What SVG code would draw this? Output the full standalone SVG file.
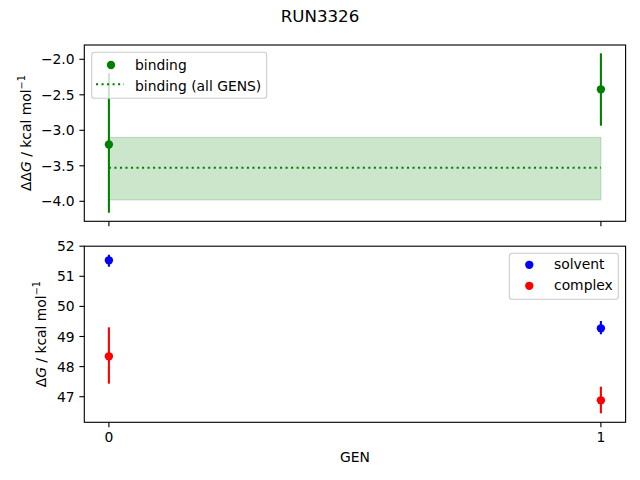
<svg xmlns="http://www.w3.org/2000/svg" width="640" height="480" viewBox="0 0 640 480">
<style>
text{font-family:"DejaVu Sans","Liberation Sans",sans-serif;fill:#000}
.tick{font-size:13.89px}
.tl{font-size:13.89px;text-anchor:end}
.tc{font-size:13.89px;text-anchor:middle}
.lab{font-size:13.89px;text-anchor:middle}
.sp{fill:none;stroke:#000;stroke-width:1.11}
.tk{stroke:#000;stroke-width:1.11}
.eg{stroke:#008000;stroke-width:2.08}
.eb{stroke:#0000ff;stroke-width:2.08}
.er{stroke:#ff0000;stroke-width:2.08}
.leg{fill:#fff;fill-opacity:0.8;stroke:#cccccc;stroke-width:1.11}
.dot{stroke:#008000;stroke-width:2.08;stroke-dasharray:2.08 3.44;fill:none}
</style>
<rect width="640" height="480" fill="#fff"/>
<text x="320" y="22" style="font-size:16.67px;text-anchor:middle">RUN3326</text>

<g id="top-axes">
  <rect x="108.9" y="137.4" width="492" height="62.5" fill="#008000" fill-opacity="0.2" stroke="#008000" stroke-opacity="0.2" stroke-width="1.11"/>
  <line class="dot" x1="108.9" y1="167.7" x2="600.9" y2="167.7"/>
  <g id="top-errorbars">
    <line class="eg" x1="108.9" y1="73.3" x2="108.9" y2="212.7"/>
    <circle cx="108.9" cy="144.5" r="4.17" fill="#008000"/>
    <line class="eg" x1="600.9" y1="53.3" x2="600.9" y2="125.7"/>
    <circle cx="600.9" cy="89.3" r="4.17" fill="#008000"/>
  </g>
  <rect class="sp" x="84.3" y="45" width="541.3" height="176.3"/>
  <g id="top-yticks">
    <line class="tk" x1="79.4" y1="59.3" x2="84.3" y2="59.3"/>
    <line class="tk" x1="79.4" y1="94.8" x2="84.3" y2="94.8"/>
    <line class="tk" x1="79.4" y1="130.3" x2="84.3" y2="130.3"/>
    <line class="tk" x1="79.4" y1="165.8" x2="84.3" y2="165.8"/>
    <line class="tk" x1="79.4" y1="201.3" x2="84.3" y2="201.3"/>
    <text class="tl" x="74.6" y="64.3">−2.0</text>
    <text class="tl" x="74.6" y="99.8">−2.5</text>
    <text class="tl" x="74.6" y="135.3">−3.0</text>
    <text class="tl" x="74.6" y="170.8">−3.5</text>
    <text class="tl" x="74.6" y="206.3">−4.0</text>
  </g>
  <line class="tk" x1="108.9" y1="221.3" x2="108.9" y2="226.2"/>
  <line class="tk" x1="600.9" y1="221.3" x2="600.9" y2="226.2"/>
  <text class="lab" transform="translate(31,133) rotate(-90)">ΔΔ<tspan font-style="italic">G</tspan> / kcal mol<tspan dy="-6" font-size="9.7px">−1</tspan></text>
  <g id="top-legend">
    <rect class="leg" x="91.7" y="52.3" width="175" height="46" rx="2.8"/>
    <circle cx="111" cy="65" r="4.17" fill="#008000"/>
    <text class="tick" x="135" y="69.5">binding</text>
    <line class="dot" x1="96" y1="84.3" x2="124" y2="84.3"/>
    <text class="tick" x="135" y="90.5">binding (all GENS)</text>
  </g>
</g>

<g id="bottom-axes">
  <g id="bottom-errorbars">
    <line class="eb" x1="108.9" y1="254.7" x2="108.9" y2="266.7"/>
    <circle cx="108.9" cy="260.3" r="4.17" fill="#0000ff"/>
    <line class="er" x1="108.9" y1="327.3" x2="108.9" y2="383.7"/>
    <circle cx="108.9" cy="356.3" r="4.17" fill="#ff0000"/>
    <line class="eb" x1="600.9" y1="321" x2="600.9" y2="334.3"/>
    <circle cx="600.9" cy="328.3" r="4.17" fill="#0000ff"/>
    <line class="er" x1="600.9" y1="386.7" x2="600.9" y2="413.3"/>
    <circle cx="600.9" cy="400.3" r="4.17" fill="#ff0000"/>
  </g>
  <rect class="sp" x="84.3" y="246.2" width="541.3" height="176.1"/>
  <g id="bottom-yticks">
    <line class="tk" x1="79.4" y1="246.2" x2="84.3" y2="246.2"/>
    <line class="tk" x1="79.4" y1="276.3" x2="84.3" y2="276.3"/>
    <line class="tk" x1="79.4" y1="306.4" x2="84.3" y2="306.4"/>
    <line class="tk" x1="79.4" y1="336.5" x2="84.3" y2="336.5"/>
    <line class="tk" x1="79.4" y1="366.6" x2="84.3" y2="366.6"/>
    <line class="tk" x1="79.4" y1="396.7" x2="84.3" y2="396.7"/>
    <text class="tl" x="74.6" y="251.2">52</text>
    <text class="tl" x="74.6" y="281.3">51</text>
    <text class="tl" x="74.6" y="311.4">50</text>
    <text class="tl" x="74.6" y="341.5">49</text>
    <text class="tl" x="74.6" y="371.6">48</text>
    <text class="tl" x="74.6" y="401.7">47</text>
  </g>
  <g id="bottom-xticks">
    <line class="tk" x1="108.9" y1="422.3" x2="108.9" y2="427.2"/>
    <line class="tk" x1="600.9" y1="422.3" x2="600.9" y2="427.2"/>
    <text class="tc" x="108.9" y="441.7">0</text>
    <text class="tc" x="600.9" y="441.7">1</text>
  </g>
  <text class="lab" x="354.9" y="462.3">GEN</text>
  <text class="lab" transform="translate(45.5,334.2) rotate(-90)">Δ<tspan font-style="italic">G</tspan> / kcal mol<tspan dy="-6" font-size="9.7px">−1</tspan></text>
  <g id="bottom-legend">
    <rect class="leg" x="509.3" y="253.3" width="109" height="46" rx="2.8"/>
    <circle cx="529.3" cy="264.8" r="4.17" fill="#0000ff"/>
    <text class="tick" x="554" y="269.3">solvent</text>
    <circle cx="529.3" cy="285.8" r="4.17" fill="#ff0000"/>
    <text class="tick" x="554" y="290.3">complex</text>
  </g>
</g>
</svg>
